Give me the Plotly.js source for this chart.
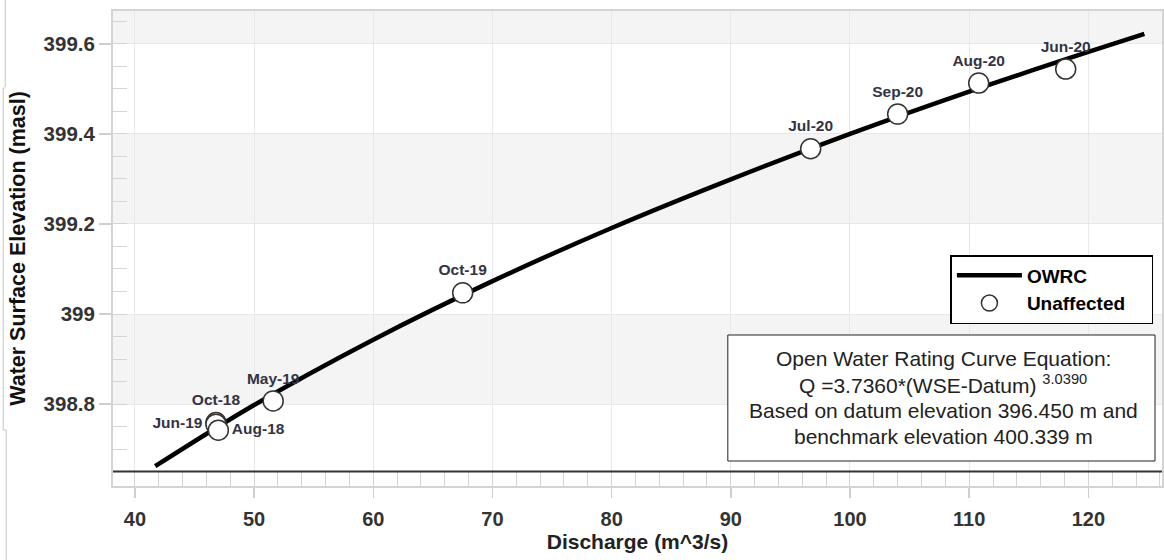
<!DOCTYPE html>
<html>
<head>
<meta charset="utf-8">
<script src="https://cdn.plot.ly/plotly-3.0.1.min.js"></script>
<style>html,body{margin:0;padding:0;background:#fff;}#chart{width:1164px;height:560px;}</style>
</head>
<body>
<div id="chart"></div>
<script>
// Rating curve (OWRC)
const curveDischarge = [41.7, 50, 60, 70, 80, 90, 100, 110, 120, 124.7];
const curveElevation = [398.662, 398.798, 398.943, 399.073, 399.191, 399.299, 399.400, 399.494, 399.582, 399.622];

// Measured (unaffected) points
const pointLabels = ["Oct-18", "Jun-19", "Aug-18", "May-19", "Oct-19", "Jul-20", "Sep-20", "Aug-20", "Jun-20"];
const pointDischarge = [46.8, 46.8, 47.0, 51.6, 67.5, 96.7, 104.0, 110.8, 118.1];
const pointElevation = [398.759, 398.755, 398.742, 398.807, 399.047, 399.367, 399.444, 399.513, 399.544];
const labelPositions = ["top center", "middle left", "middle right", "top center", "top center", "top center", "top center", "top center", "top center"];

// Axis ticks
const yTickValues = [398.8, 399.0, 399.2, 399.4, 399.6];
const yTickLabels = ["398.8", "399", "399.2", "399.4", "399.6"];
const xTickValues = [40, 50, 60, 70, 80, 90, 100, 110, 120];
const xTickLabels = ["40", "50", "60", "70", "80", "90", "100", "110", "120"];

// Shaded bands and base line
const bandLows = [398.8, 399.2, 399.6];
const bandHighs = [399.0, 399.4, 399.8];
const baseLevel = 398.65;

// Annotation text
const equationLines = [
  "Open Water Rating Curve Equation:",
  "Q =3.7360*(WSE-Datum) <sup>3.0390</sup>",
  "Based on datum elevation 396.450 m and",
  "benchmark elevation 400.339 m"
];

const FONT = "Liberation Sans, Arial, sans-serif";
const PW = 1051, PH = 475, PL = 113, PB = 486;
const px = v => (v - PL) / PW;
const py = v => (PB - v) / PH;

const traces = [
  {
    x: curveDischarge, y: curveElevation, type: "scatter", mode: "lines",
    name: "<b>OWRC</b>", legendgroup: "owrc",
    line: {color: "#000", width: 4.5, shape: "spline"},
    hoverinfo: "skip"
  },
  {
    x: pointDischarge, y: pointElevation, type: "scatter", mode: "markers+text",
    name: "<b>Unaffected</b>&nbsp;&nbsp;&nbsp;&nbsp;", legendgroup: "unaff",
    text: pointLabels, textposition: labelPositions,
    textfont: {family: FONT, size: 15.5, color: "#333344", weight: "bold"},
    marker: {symbol: "circle", size: 20, color: "#fff", line: {color: "#333", width: 1.5}},
    cliponaxis: false
  }
];

const shapes = [];
for (let i = 0; i < bandLows.length; i++) {
  shapes.push({type: "rect", xref: "paper", yref: "y", x0: 0, x1: 1, y0: bandLows[i], y1: bandHighs[i],
    fillcolor: "#f4f4f4", line: {width: 0}, layer: "below"});
}
shapes.push({type: "line", xref: "paper", yref: "y", x0: 0, x1: 1, y0: baseLevel, y1: baseLevel,
  line: {color: "#333", width: 2}, layer: "above"});
// equation box
shapes.push({type: "rect", xref: "paper", yref: "paper",
  x0: px(729), x1: px(1157), y0: py(461), y1: py(335),
  fillcolor: "#fff", line: {color: "#222", width: 1}, layer: "above"});
// faint page-edge lines at far left of the picture
const edge = {color: "#c4c4c4", width: 1};
shapes.push({type: "line", xref: "paper", yref: "paper", x0: px(5), x1: px(5), y0: py(0), y1: py(87), line: edge});
shapes.push({type: "line", xref: "paper", yref: "paper", x0: px(3), x1: px(5), y0: py(88), y1: py(88), line: edge});
shapes.push({type: "line", xref: "paper", yref: "paper", x0: px(3), x1: px(3), y0: py(88), y1: py(430), line: edge});
shapes.push({type: "line", xref: "paper", yref: "paper", x0: px(3), x1: px(6), y0: py(430), y1: py(430), line: edge});
shapes.push({type: "line", xref: "paper", yref: "paper", x0: px(6), x1: px(6), y0: py(430), y1: py(560), line: edge});

const annotations = [];
const lineYs = [358, 384, 410, 436];
for (let i = 0; i < equationLines.length; i++) {
  annotations.push({xref: "paper", yref: "paper", x: px(945), y: py(lineYs[i]),
    xanchor: "center", yanchor: "middle", showarrow: false, text: equationLines[i],
    font: {family: FONT, size: 21, color: "#222"}});
}

const layout = {
  width: 1164, height: 560,
  margin: {l: 113, r: 0, t: 11, b: 74},
  paper_bgcolor: "#fff", plot_bgcolor: "#fff",
  showlegend: true,
  legend: {
    x: px(952), y: py(255), xanchor: "left", yanchor: "top",
    bgcolor: "#fff", bordercolor: "#000", borderwidth: 1.5,
    font: {family: FONT, size: 19, color: "#000"}, itemwidth: 65,
    tracegroupgap: 8, traceorder: "normal"
  },
  xaxis: {
    range: [38.16, 126.18], tickvals: xTickValues, ticktext: xTickLabels,
    ticks: "outside", ticklen: 10, tickwidth: 1.5, tickcolor: "#cfcfcf",
    tickfont: {family: FONT, size: 20, color: "#333", weight: "bold"},
    ticklabelstandoff: 4,
    showgrid: true, gridcolor: "#e8e8e8", gridwidth: 1,
    showline: true, linecolor: "#d4d4d4", linewidth: 2, mirror: true,
    zeroline: false,
    minor: {dtick: 2, ticks: "inside", ticklen: 14, tickwidth: 1, tickcolor: "#d4d4d4", showgrid: false},
    title: {text: "<b>Discharge (m^3/s)</b>", font: {family: FONT, size: 21, color: "#222"}, standoff: 2}
  },
  yaxis: {
    range: [398.618, 399.673], tickvals: yTickValues, ticktext: yTickLabels,
    ticks: "outside", ticklen: 12, tickwidth: 1.5, tickcolor: "#cfcfcf",
    tickfont: {family: FONT, size: 20.5, color: "#333", weight: "bold"},
    showgrid: true, gridcolor: "#e8e8e8", gridwidth: 1,
    showline: true, linecolor: "#d4d4d4", linewidth: 2, mirror: true,
    zeroline: false, automargin: true,
    minor: {dtick: 0.05, ticks: "inside", ticklen: 14, tickwidth: 1, tickcolor: "#d4d4d4", showgrid: false},
    title: {text: "<b>Water Surface Elevation (masl)</b>", font: {family: FONT, size: 21.5, color: "#111"}, standoff: 12}
  },
  shapes: shapes,
  annotations: annotations
};

Plotly.newPlot("chart", traces, layout, {displayModeBar: false, staticPlot: true});
</script>
</body>
</html>
